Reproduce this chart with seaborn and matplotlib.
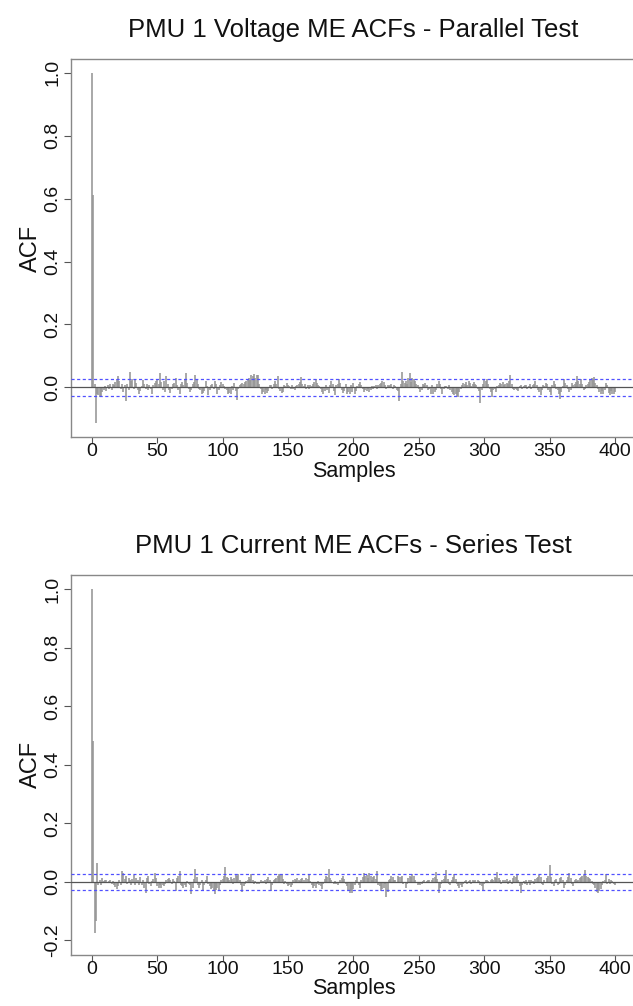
import numpy as np
import pandas as pd
import matplotlib
matplotlib.use("Agg")
import matplotlib.pyplot as plt
import seaborn as sns

# ---------------- data ----------------
titles = ["PMU 1 Voltage ME ACFs - Parallel Test", "PMU 1 Current ME ACFs - Series Test"]
x_label = "Samples"
y_label = "ACF"
x_ticks = [0, 50, 100, 150, 200, 250, 300, 350, 400]
y_ticks_top = [0.0, 0.2, 0.4, 0.6, 0.8, 1.0]
y_ticks_bottom = [-0.2, 0.0, 0.2, 0.4, 0.6, 0.8, 1.0]
ci_level = 0.0276

acf_voltage = [
    1.0, 0.61, 0.012, -0.114, -0.02, -0.025, -0.03, -0.028, -0.015, -0.01, 0.005, -0.012, 0.008, -0.006, 0.01, -0.008, 0.012, 0.006, 0.018, 0.025,
    0.035, 0.02, -0.005, 0.01, -0.015, 0.008, -0.045, 0.012, -0.01, 0.049, 0.02, 0.025, -0.005, 0.022, 0.015, -0.008, -0.02, -0.012, 0.005, 0.022,
    0.01, -0.006, 0.012, -0.01, 0.006, -0.004, -0.021, 0.008, 0.015, 0.02, 0.028, 0.012, 0.045, 0.018, -0.01, 0.02, -0.015, 0.035, 0.01, -0.008,
    -0.018, -0.006, 0.012, 0.015, 0.03, 0.008, -0.01, -0.02, 0.01, 0.018, 0.006, 0.025, 0.046, 0.015, -0.006, -0.015, -0.008, 0.012, 0.018, 0.04,
    0.025, 0.012, -0.004, -0.01, -0.02, -0.018, -0.012, 0.02, 0.005, -0.025, -0.01, 0.008, 0.012, -0.006, 0.02, 0.01, -0.02, -0.008, 0.006, 0.018,
    0.012, 0.004, -0.006, -0.01, -0.02, -0.018, -0.022, 0.004, -0.008, 0.015, -0.012, -0.04, -0.006, 0.008, 0.01, 0.014, 0.012, 0.018, 0.02, 0.024,
    0.03, 0.022, 0.04, 0.035, 0.042, 0.03, 0.038, 0.04, 0.012, -0.004, -0.02, -0.015, -0.022, -0.008, -0.018, -0.012, 0.006, 0.008, -0.005, 0.012,
    0.02, 0.01, 0.035, -0.004, -0.012, -0.018, -0.015, 0.006, 0.005, 0.015, 0.008, 0.004, -0.005, 0.006, -0.004, -0.01, 0.004, 0.008, 0.012, 0.016,
    0.033, 0.01, 0.004, 0.01, -0.004, 0.006, -0.006, 0.008, 0.004, 0.012, 0.018, 0.028, 0.015, 0.006, 0.004, -0.006, -0.015, -0.02, -0.012, 0.008,
    -0.01, -0.018, 0.006, 0.02, 0.01, -0.012, -0.025, 0.006, 0.012, 0.025, 0.014, -0.008, -0.018, -0.012, 0.01, -0.02, -0.015, -0.022, 0.006, -0.015,
    0.015, -0.02, -0.012, 0.004, 0.01, 0.018, 0.006, -0.004, -0.015, -0.01, -0.012, -0.006, -0.015, -0.008, 0.004, -0.006, 0.004, 0.008, -0.004, 0.006,
    0.01, 0.014, 0.02, 0.018, 0.006, -0.006, 0.008, 0.004, 0.006, 0.01, -0.004, 0.006, 0.004, -0.008, -0.012, -0.042, 0.012, 0.049, 0.02, 0.015,
    0.02, 0.01, 0.03, 0.045, 0.018, 0.03, 0.028, 0.02, 0.012, 0.006, -0.006, -0.015, -0.008, 0.01, 0.008, 0.015, 0.006, -0.01, -0.006, -0.02,
    0.006, -0.02, -0.015, -0.008, 0.01, 0.02, 0.012, -0.004, -0.02, -0.006, 0.004, 0.004, -0.004, 0.006, -0.01, -0.015, -0.02, -0.025, -0.022, -0.028,
    -0.032, -0.015, -0.006, 0.006, 0.015, 0.01, 0.018, 0.008, 0.02, 0.015, 0.004, 0.012, 0.018, 0.01, 0.006, -0.006, -0.012, -0.05, -0.008, 0.012,
    0.028, 0.02, 0.025, 0.01, -0.006, -0.015, -0.03, -0.01, -0.004, -0.015, 0.004, 0.006, 0.015, 0.01, 0.018, 0.008, 0.012, 0.015, 0.01, 0.02,
    0.038, 0.012, -0.006, -0.01, -0.004, -0.008, -0.012, 0.004, 0.006, -0.004, 0.004, 0.006, 0.008, -0.006, 0.004, 0.01, -0.004, 0.006, 0.012, 0.02,
    0.006, -0.01, -0.015, -0.025, -0.008, 0.006, 0.004, 0.015, 0.01, -0.01, -0.015, -0.025, 0.006, 0.02, 0.01, -0.004, -0.008, -0.02, -0.036, -0.015,
    0.004, 0.028, 0.015, 0.006, -0.006, -0.015, -0.008, 0.015, 0.006, 0.01, 0.018, 0.035, 0.02, 0.012, 0.025, 0.01, -0.01, -0.006, 0.006, 0.01,
    0.018, 0.025, 0.03, 0.028, 0.032, 0.015, 0.006, -0.004, -0.015, -0.02, -0.012, -0.02, -0.01, 0.015, 0.006, -0.018, -0.025, -0.012, -0.02, -0.022,
    -0.015,
]

acf_current = [
    1.0, 0.48, -0.174, -0.133, 0.064, -0.012, 0.006, -0.01, 0.012, 0.004, 0.008, 0.006, -0.004, 0.004, 0.006, -0.008, 0.004, -0.01, -0.018, -0.023,
    -0.015, 0.006, -0.01, 0.038, 0.03, 0.01, 0.02, -0.006, 0.012, 0.006, -0.012, 0.01, 0.025, -0.01, 0.012, 0.006, -0.01, 0.015, -0.012, 0.008,
    -0.02, -0.037, 0.012, 0.02, -0.006, -0.015, 0.004, 0.01, 0.03, 0.012, -0.015, -0.02, -0.012, -0.02, -0.01, -0.015, -0.008, 0.006, 0.01, 0.012,
    0.008, -0.006, 0.01, 0.004, -0.03, 0.012, 0.02, 0.038, -0.01, -0.015, -0.02, -0.012, -0.018, 0.004, -0.006, -0.012, -0.04, -0.02, 0.01, 0.044,
    0.015, -0.01, -0.02, -0.012, 0.006, -0.03, -0.012, 0.006, 0.02, -0.006, -0.015, -0.025, -0.02, -0.03, -0.04, -0.028, -0.02, -0.03, -0.012, 0.006,
    0.01, 0.02, 0.05, 0.018, 0.012, 0.008, 0.015, 0.01, -0.006, 0.012, 0.025, 0.02, 0.026, 0.008, -0.012, -0.033, -0.015, -0.006, 0.004, 0.008,
    0.015, 0.01, 0.028, 0.006, -0.006, 0.004, -0.008, -0.004, -0.006, 0.006, -0.004, 0.004, 0.008, -0.006, 0.01, 0.015, 0.006, -0.03, -0.012, 0.006,
    0.01, 0.012, 0.02, 0.028, 0.025, 0.028, 0.01, -0.006, 0.004, -0.008, -0.015, -0.012, -0.018, -0.01, 0.006, 0.01, 0.008, 0.012, 0.006, 0.004,
    0.01, 0.012, 0.006, -0.004, 0.012, 0.01, 0.025, 0.004, -0.012, -0.02, -0.015, -0.02, -0.008, 0.004, -0.01, -0.015, -0.025, -0.008, 0.01, 0.02,
    0.015, 0.043, 0.012, 0.006, -0.004, -0.008, 0.004, -0.006, -0.012, -0.004, 0.008, 0.012, 0.02, 0.01, -0.006, -0.015, -0.03, -0.037, -0.032, -0.037,
    -0.025, -0.012, 0.006, 0.015, -0.01, -0.02, 0.006, 0.015, 0.03, 0.02, 0.025, 0.012, 0.03, 0.02, 0.006, 0.015, 0.02, 0.01, 0.036, -0.01,
    -0.015, -0.03, -0.025, -0.02, -0.006, -0.05, -0.035, 0.006, 0.01, 0.02, 0.015, 0.008, 0.006, -0.004, 0.02, 0.015, 0.018, 0.02, -0.008, -0.004,
    -0.02, -0.008, 0.012, 0.02, 0.015, 0.027, 0.02, 0.006, -0.004, -0.01, -0.006, -0.012, -0.008, 0.004, 0.006, -0.004, 0.004, 0.006, 0.008, -0.004,
    0.006, 0.012, 0.018, 0.033, 0.01, -0.037, -0.02, -0.008, 0.006, 0.01, 0.02, 0.039, 0.01, -0.006, -0.012, 0.006, 0.015, 0.028, 0.01, -0.006,
    -0.015, -0.02, -0.012, -0.018, -0.006, 0.004, 0.006, -0.008, 0.004, 0.008, -0.006, 0.006, 0.004, 0.008, -0.004, 0.006, 0.004, -0.01, -0.015, -0.03,
    -0.006, 0.006, 0.008, 0.004, -0.004, 0.006, 0.01, 0.008, 0.015, 0.012, 0.033, 0.012, 0.006, -0.006, 0.008, -0.004, 0.006, 0.01, -0.008, 0.004,
    0.006, -0.006, 0.012, 0.02, 0.018, 0.022, 0.006, -0.015, -0.039, -0.012, 0.004, -0.006, 0.008, -0.01, 0.006, -0.012, 0.006, 0.004, -0.008, 0.01,
    0.012, 0.018, 0.025, 0.015, -0.006, -0.012, 0.006, -0.004, 0.012, 0.02, 0.058, 0.015, -0.008, -0.015, 0.006, 0.01, -0.012, -0.006, 0.012, 0.018,
    0.006, -0.02, -0.01, 0.006, 0.015, 0.03, 0.012, -0.008, -0.015, 0.006, 0.01, 0.004, 0.008, 0.012, 0.018, 0.02, 0.025, 0.041, 0.02, 0.015,
    0.012, 0.01, 0.004, -0.006, -0.012, -0.02, -0.035, -0.037, -0.03, -0.025, -0.01, 0.004, 0.006, 0.028, -0.006, 0.01, -0.008, 0.008, 0.004, -0.006,
    -0.01,
]

# ---------------- style ----------------
sns.set_theme(style="white")
plt.rcParams['font.family'] = ['Liberation Sans', 'DejaVu Sans']

fig = plt.figure(figsize=(6.33, 10.06), dpi=100)

W, H = 633.0, 1006.0
panels = [
    dict(vals=acf_voltage, title=titles[0], yt=y_ticks_top, ylim=(-0.157, 1.043),
         box=(71, 59.3, 636, 436.7)),
    dict(vals=acf_current, title=titles[1], yt=y_ticks_bottom, ylim=(-0.248, 1.048),
         box=(71, 575, 636, 954.5)),
]

for p in panels:
    x0, y0, x1, y1 = p["box"]
    ax = fig.add_axes([x0 / W, 1 - y1 / H, (x1 - x0) / W, (y1 - y0) / H])
    df = pd.DataFrame({"lag": np.arange(len(p["vals"])), "acf": p["vals"]})
    ax.vlines(df["lag"], 0, df["acf"], colors="#959595", linewidth=1.15, zorder=2)
    ax.axhline(0, color="#555555", linewidth=0.9, zorder=3)
    for s in (ci_level, -ci_level):
        ax.axhline(s, color="#5050ff", linewidth=0.9, linestyle=(0, (2.5, 2)), zorder=4)
    ax.set_xlim(-16, 416)
    ax.set_ylim(*p["ylim"])
    ax.set_xticks(x_ticks)
    ax.set_yticks(p["yt"])
    ax.set_yticklabels([f"{v:.1f}" for v in p["yt"]], rotation=90, va="center")
    ax.tick_params(axis="x", pad=0.5, length=4)
    ax.tick_params(axis="y", pad=2, length=5)
    ax.tick_params(axis="both", direction="out", width=0.8, color="#555555",
                   labelsize=14, bottom=True, left=True, labelcolor="#111111")
    for sp in ax.spines.values():
        sp.set_color("#888888")
        sp.set_linewidth(1.0)
    ax.set_xlabel(x_label, fontsize=15.5, labelpad=0.5, color="#111111")
    ax.set_ylabel(y_label, fontsize=17, labelpad=2, color="#111111")
    ax.set_title(p["title"], fontsize=18.5, pad=16, color="#111111")
    ax.grid(False)

fig.savefig("out.png", dpi=100)
